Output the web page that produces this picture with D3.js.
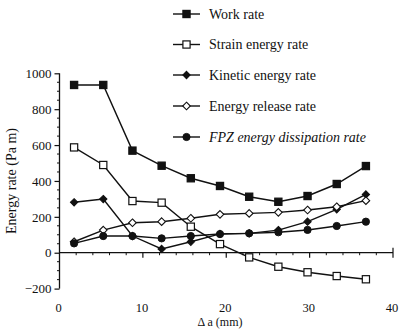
<!DOCTYPE html>
<html>
<head>
<meta charset="utf-8">
<script src="https://cdn.jsdelivr.net/npm/d3@7"></script>
<style>
  html, body { margin: 0; padding: 0; background: #fff; }
  svg text { font-family: "Liberation Serif", "DejaVu Serif", serif; fill: #111; }
</style>
</head>
<body>
<svg id="chart" width="401" height="329"></svg>
<script>
// Crack extension Δa (mm)
const crackExt = [1.75, 5.25, 8.75, 12.25, 15.75, 19.25, 22.75, 26.25, 29.75, 33.25, 36.75];

// Energy rates (Pa m)
const workRate        = [935, 935, 569, 485, 415, 372, 312, 284, 316, 383, 483];
const strainRate      = [587, 489, 288, 279, 145, 48, -26, -78, -109, -130, -148];
const kineticRate     = [281, 299, 93, 21, 61, 105, 108, 126, 173, 242, 325];
const releaseRate     = [61, 126, 167, 173, 192, 214, 219, 225, 238, 256, 290];
const fpzRate         = [52, 93, 93, 80, 93, 104, 108, 114, 127, 149, 173];

const seriesNames = ["Work rate", "Strain energy rate", "Kinetic energy rate",
                     "Energy release rate", "FPZ energy dissipation rate"];

const xTicks = [0, 10, 20, 30, 40];
const yTicks = [-200, 0, 200, 400, 600, 800, 1000];

const series = [
  { name: seriesNames[0], values: workRate,    marker: "sqFilled" },
  { name: seriesNames[1], values: strainRate,  marker: "sqOpen" },
  { name: seriesNames[2], values: kineticRate, marker: "diaFilled" },
  { name: seriesNames[3], values: releaseRate, marker: "diaOpen" },
  { name: seriesNames[4], values: fpzRate,     marker: "circFilled", italic: true }
];

const svg = d3.select("#chart");
const x = d3.scaleLinear().domain([0, 40]).range([59.5, 393]);
const y = d3.scaleLinear().domain([-200, 1000]).range([288.6, 73.3]);

const ink = "#111";

// y axis with outward major ticks and minor ticks every 50
const yAxis = d3.axisLeft(y).tickValues(yTicks).tickSize(5).tickPadding(3)
  .tickFormat(d3.format("d"));
const gy = svg.append("g").attr("transform", `translate(${x(0)},0)`).call(yAxis);
gy.select(".domain").attr("stroke", ink).attr("stroke-width", 1.3).attr("d", `M0,${y(-200)}V${y(1000)}`);
gy.selectAll(".tick line").attr("stroke", ink).attr("stroke-width", 1.2);
gy.selectAll(".tick text").style("font-size", "13px").attr("fill", ink);
const yMinor = d3.range(-200, 1001, 50).filter(v => v % 200 !== 0);
gy.selectAll(".minor").data(yMinor).enter().append("line")
  .attr("x1", -2.5).attr("x2", 0).attr("y1", d => y(d)).attr("y2", d => y(d))
  .attr("stroke", ink).attr("stroke-width", 1);

// x axis drawn along zero, labels placed below the plot
const gx = svg.append("g").attr("transform", `translate(0,${y(0)})`);
gx.append("line").attr("x1", x(0)).attr("x2", x(40)).attr("y1", 0).attr("y2", 0)
  .attr("stroke", ink).attr("stroke-width", 1.3);
const xMinor = d3.range(0, 41, 2).filter(v => v % 10 !== 0);
gx.selectAll(".xminor").data(xMinor).enter().append("line")
  .attr("x1", d => x(d)).attr("x2", d => x(d)).attr("y1", 0).attr("y2", 2.5)
  .attr("stroke", ink).attr("stroke-width", 1);
gx.selectAll(".xmajor").data(xTicks.slice(1)).enter().append("line")
  .attr("x1", d => x(d)).attr("x2", d => x(d))
  .attr("y1", d => d === 40 ? -5 : 0).attr("y2", 5)
  .attr("stroke", ink).attr("stroke-width", 1.2);

svg.selectAll(".xlab").data(xTicks).enter().append("text")
  .attr("x", d => x(d) - 1).attr("y", 311.5)
  .attr("text-anchor", "middle").style("font-size", "12.5px")
  .text(d => d);

svg.append("text").attr("x", 220).attr("y", 326).attr("text-anchor", "middle")
  .style("font-size", "12px").text("Δ a (mm)");

svg.append("text").attr("transform", "translate(16,181) rotate(-90)")
  .attr("text-anchor", "middle").style("font-size", "14px").text("Energy rate (Pa m)");

// marker drawing
function drawMarker(g, type, cx, cy) {
  if (type === "sqFilled" || type === "sqOpen") {
    g.append("rect").attr("x", cx - 3.6).attr("y", cy - 3.6).attr("width", 7.2).attr("height", 7.2)
      .attr("fill", type === "sqFilled" ? ink : "#fff").attr("stroke", ink).attr("stroke-width", 1.2);
  } else if (type === "diaFilled" || type === "diaOpen") {
    const r = type === "diaFilled" ? 3.6 : 3.8;
    g.append("path").attr("d", `M${cx},${cy - r}L${cx + r},${cy}L${cx},${cy + r}L${cx - r},${cy}Z`)
      .attr("fill", type === "diaFilled" ? ink : "#fff").attr("stroke", ink).attr("stroke-width", 1.1);
  } else {
    g.append("circle").attr("cx", cx).attr("cy", cy).attr("r", 3.6)
      .attr("fill", ink).attr("stroke", ink).attr("stroke-width", 1);
  }
}

const line = d3.line().x((d, i) => x(crackExt[i])).y(d => y(d));

series.forEach(s => {
  const g = svg.append("g");
  g.append("path").attr("d", line(s.values)).attr("fill", "none")
    .attr("stroke", ink).attr("stroke-width", 1.4);
  s.values.forEach((v, i) => drawMarker(g, s.marker, x(crackExt[i]), y(v)));
});

// legend
const legY = [14, 44.5, 75, 106, 137];
series.forEach((s, i) => {
  const g = svg.append("g");
  g.append("line").attr("x1", 173).attr("x2", 200).attr("y1", legY[i]).attr("y2", legY[i])
    .attr("stroke", ink).attr("stroke-width", 1.4);
  drawMarker(g, s.marker, 186.5, legY[i]);
  g.append("text").attr("x", 209).attr("y", legY[i] + 4.5)
    .style("font-size", "14px").style("font-style", s.italic ? "italic" : "normal")
    .text(s.name);
});
</script>
</body>
</html>
